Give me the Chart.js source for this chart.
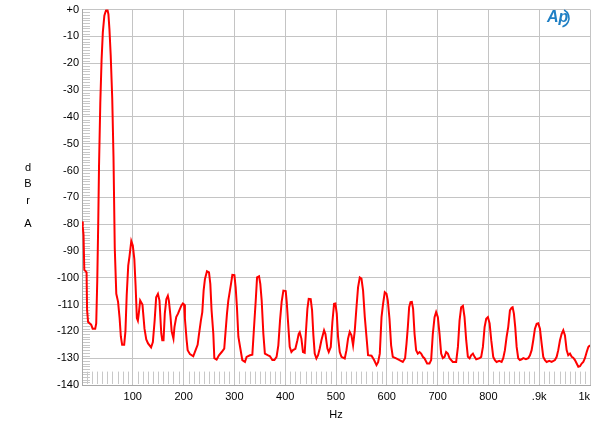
<!DOCTYPE html>
<html>
<head>
<meta charset="utf-8">
<script src="https://cdn.jsdelivr.net/npm/chart.js@4/dist/chart.umd.min.js"></script>
<style>
  html, body { margin: 0; padding: 0; background: #fff; }
  #wrap { width: 600px; height: 428px; }
</style>
</head>
<body>
<div id="wrap"><canvas id="spectrum" width="600" height="428"></canvas></div>
<script>
// spectrum readings, frequency in Hz and level in dBr
const freqHz = [
  0, 1.5, 3, 4.5, 9, 10, 12, 18, 21, 26, 28, 30, 32, 33.5, 36, 38.5, 41, 44, 46, 48,
  50, 52, 54, 56.5, 59.5, 62, 64.5, 67.5, 71, 74, 76.5, 79, 83, 85.5, 88, 91, 93.5, 97, 100, 103,
  105.5, 108, 110, 112, 114.5, 119, 123, 126.5, 130, 136, 139.5, 143, 146, 149.5, 152.5, 156, 158, 160.5, 163, 166,
  169, 171, 174, 176.5, 180, 182, 185.5, 189, 192, 195.5, 198.5, 201, 202.6, 206, 208, 212.5, 219, 223.6, 227.6, 230,
  234, 236.8, 239.4, 242, 246, 250, 252.6, 255, 258.5, 260.5, 265, 269.6, 275, 280, 282.8, 285.4, 288, 293.3, 296, 300,
  302.5, 305, 307.8, 311.7, 315.6, 320.8, 324, 330.7, 335.3, 339.3, 342, 344.6, 348.5, 351, 353.7, 357, 360, 365.5, 370, 374.7,
  378.7, 383, 386.5, 389.8, 393, 396.4, 401, 403, 405.6, 408.9, 412.2, 415.4, 420, 424, 426.6, 428.6, 431.9, 435, 438.4, 441,
  443.7, 446.3, 450.2, 452.9, 455.5, 458.1, 461.4, 464.7, 468, 471.3, 476.5, 479.2, 483.1, 485.7, 489.7, 492.9, 496.2, 498.8, 501.5, 504,
  507.4, 510.7, 517.2, 520.6, 523.7, 527, 530.4, 533.6, 537, 540.3, 543.4, 546.8, 550.1, 553.3, 556.7, 560, 563.1, 569.9, 575, 579.7,
  582.9, 586.2, 589.6, 592.7, 596, 599.4, 602, 605.3, 608.5, 611.8, 618.4, 625, 631.5, 636, 638.8, 641.4, 644, 646.7, 649.3, 651.8,
  654.6, 657.7, 661, 664.4, 667.6, 671, 674.3, 679.4, 684, 687.3, 690.6, 694, 697.1, 700.5, 703.8, 707, 710.3, 713.7, 716.8, 720.2,
  723.5, 730, 736.5, 740, 743.2, 746.4, 749.8, 753, 756.3, 759.6, 763, 766, 769.5, 772.8, 776, 782.6, 785.8, 789.2, 792.5, 795.7,
  799, 802.4, 805.6, 809.5, 812.8, 816.2, 821.3, 826, 829.2, 832.5, 835.9, 839, 842.4, 845.7, 847.7, 850.2, 852.8, 855.6, 858.7, 862,
  865.4, 868.6, 873.9, 878.4, 881.8, 885.1, 888.3, 891.6, 895, 898.1, 901.5, 904.8, 908, 911.3, 914.7, 919.8, 924.5, 931, 934.4, 937.5,
  940.9, 944.2, 947.4, 950.7, 954, 957.2, 960.6, 964, 967, 970.4, 973.8, 977, 980.3, 983.6, 986.8, 990, 993.5, 996.7, 1000
];
const levelDbr = [
  -79, -81, -84, -97, -98, -112, -116.5, -117.5, -119, -119, -117, -101.5, -79, -58.5, -35, -19, -8.5, -2.3, -1, 0,
  0, -1.7, -7.3, -17, -33, -55, -89, -106, -109, -115, -122, -125, -125, -120, -106.5, -95.5, -92, -86.3, -88, -93,
  -103, -115, -116, -113, -108.5, -110, -119, -123, -124.5, -126, -124, -116, -107.3, -106, -108.5, -120.7, -123.3, -123.3, -113.4, -108,
  -106.7, -108.5, -114, -120, -122.7, -118.4, -114.7, -113.4, -112, -110.4, -109.6, -110, -115.3, -123.3, -127, -128.5, -129.3, -127, -125, -121.5,
  -116, -112.8, -104.8, -100.5, -97.6, -98, -102.3, -112, -120.9, -130, -130.5, -128.9, -127.7, -126.4, -119.6, -113.4, -108.5, -102.3, -98.9, -99,
  -103.6, -111, -122, -126.4, -130.7, -131.4, -129.5, -128.9, -128.7, -116.5, -108.5, -99.9, -99.5, -102.3, -108.5, -120.9, -128.3, -128.9, -129.3, -130.7,
  -130.7, -129.5, -125.2, -116, -109, -104.8, -105, -109, -116.5, -125.8, -127.7, -127, -126.5, -123.3, -120.9, -120.3, -122.7, -127.7, -128, -119.6,
  -111.6, -107.9, -108, -112.2, -121.5, -128.3, -130.1, -128.9, -126.4, -123.3, -119.6, -121, -126.4, -127.7, -125.8, -116.5, -109.7, -109.6, -113.4, -122,
  -127.7, -129.5, -130.1, -127, -122.7, -120.2, -121.5, -125.2, -119.6, -111, -103.6, -99.9, -100.3, -104.8, -114.7, -122, -128.9, -129.1, -130.7, -132.6,
  -131.5, -128.3, -114.7, -109.7, -105.4, -106, -108.5, -115.3, -125.2, -129.5, -130.1, -130.7, -131.4, -130, -124.6, -118.4, -111, -109.1, -109, -111.6,
  -120.9, -127, -128.3, -127.7, -128.3, -129.5, -130.1, -132, -132, -130.7, -120.9, -114.7, -112.8, -114.7, -120.9, -128.3, -130, -129.5, -127.7, -128.3,
  -130, -131.4, -131.4, -125.8, -116, -111, -110.5, -114.7, -123.3, -129.5, -130.1, -128.9, -128.3, -129.5, -130.4, -130, -129.5, -125.8, -118.4, -115.3,
  -114.7, -117, -123.3, -129.5, -130.7, -131.4, -131, -131.4, -130, -127, -122, -118.4, -112.2, -111.2, -111, -113.4, -118.4, -125.8, -130, -130.7,
  -130.4, -130, -130.4, -130, -128.9, -127, -123.3, -119, -117.2, -117, -119, -124.6, -129.5, -130.7, -131.4, -131, -131.4, -130.7, -129.5, -127,
  -123.3, -120.9, -119.6, -121.5, -127, -128.9, -128.3, -129.5, -129.8, -130.7, -132, -133.2, -133, -132, -131.4, -130, -127.7, -125.8, -125.2
];

const xTickValues = [100, 200, 300, 400, 500, 600, 700, 800, 900, 1000];
const xTickLabels = ['100', '200', '300', '400', '500', '600', '700', '800', '.9k', '1k'];
const yAxisLetters = ['d', 'B', 'r', 'A'];

const FONT = '"Liberation Sans", Arial, sans-serif';

// small gray minor ticks along left and bottom edges, plus letters and logo
const decorPlugin = {
  id: 'decor',
  beforeDatasetsDraw(chart) {
    const { ctx, chartArea, scales } = chart;
    ctx.save();
    ctx.strokeStyle = '#c8c8c8';
    ctx.lineWidth = 1;
    ctx.beginPath();
    for (let v = -139; v < 0; v++) {
      if (v % 10 === 0) continue;
      const y = Math.round(scales.y.getPixelForValue(v)) + 0.5;
      ctx.moveTo(chartArea.left + 1, y);
      ctx.lineTo(chartArea.left + 8, y);
    }
    const yTop = scales.y.getPixelForValue(-135);
    for (let f = 10; f < 1000; f += 10) {
      if (f % 100 === 0) continue;
      const x = Math.round(scales.x.getPixelForValue(f)) + 0.5;
      ctx.moveTo(x, yTop);
      ctx.lineTo(x, chartArea.bottom - 1);
    }
    ctx.stroke();
    ctx.restore();
  },
  afterDraw(chart) {
    const { ctx } = chart;
    ctx.save();
    ctx.fillStyle = '#000';
    ctx.font = '11px ' + FONT;
    ctx.textAlign = 'center';
    ctx.textBaseline = 'middle';
    const ys = [168, 184, 201, 224];
    yAxisLetters.forEach((ch, i) => ctx.fillText(ch, 28, ys[i]));

    // Ap logo
    ctx.fillStyle = '#1f7fc4';
    ctx.font = 'italic bold 16px ' + FONT;
    ctx.textAlign = 'left';
    ctx.fillText('Ap', 547, 18);
    ctx.strokeStyle = '#1f7fc4';
    ctx.lineWidth = 1.6;
    ctx.beginPath();
    ctx.arc(560, 18, 9, -1.1, 1.3);
    ctx.stroke();
    ctx.restore();
  }
};

const ctx = document.getElementById('spectrum').getContext('2d');
new Chart(ctx, {
  type: 'line',
  data: {
    datasets: [{
      data: freqHz.map((f, i) => ({ x: f, y: levelDbr[i] })),
      borderColor: '#ff0000',
      borderWidth: 2,
      pointRadius: 0,
      tension: 0,
      fill: false
    }]
  },
  options: {
    responsive: false,
    animation: false,
    layout: { padding: { top: 7, right: 10, left: 0, bottom: 0 } },
    plugins: {
      legend: { display: false },
      tooltip: { enabled: false }
    },
    scales: {
      x: {
        type: 'linear',
        min: 0,
        max: 1000,
        afterBuildTicks: (scale) => {
          scale.ticks = [0].concat(xTickValues).map(v => ({ value: v }));
        },
        afterFit: (scale) => { scale.height = 43; },
        ticks: {
          color: '#000',
          font: { family: FONT, size: 11 },
          padding: 5,
          align: 'inner',
          maxRotation: 0,
          autoSkip: false,
          callback: (v) => {
            const i = xTickValues.indexOf(v);
            return i >= 0 ? xTickLabels[i] : '';
          }
        },
        grid: { color: '#c4c4c4', lineWidth: 1, drawTicks: false },
        border: { color: '#a8a8a8' },
        title: {
          display: true,
          text: 'Hz',
          color: '#000',
          font: { family: FONT, size: 11 },
          padding: { top: 0, bottom: 6 }
        }
      },
      y: {
        min: -140,
        max: 0,
        afterFit: (scale) => { scale.width = 82; },
        ticks: {
          stepSize: 10,
          color: '#000',
          font: { family: FONT, size: 11 },
          padding: 3,
          callback: (v) => (v === 0 ? '+0' : String(v))
        },
        grid: { color: '#c4c4c4', lineWidth: 1, drawTicks: false },
        border: { color: '#a8a8a8' }
      }
    }
  },
  plugins: [decorPlugin]
});
</script>
</body>
</html>
